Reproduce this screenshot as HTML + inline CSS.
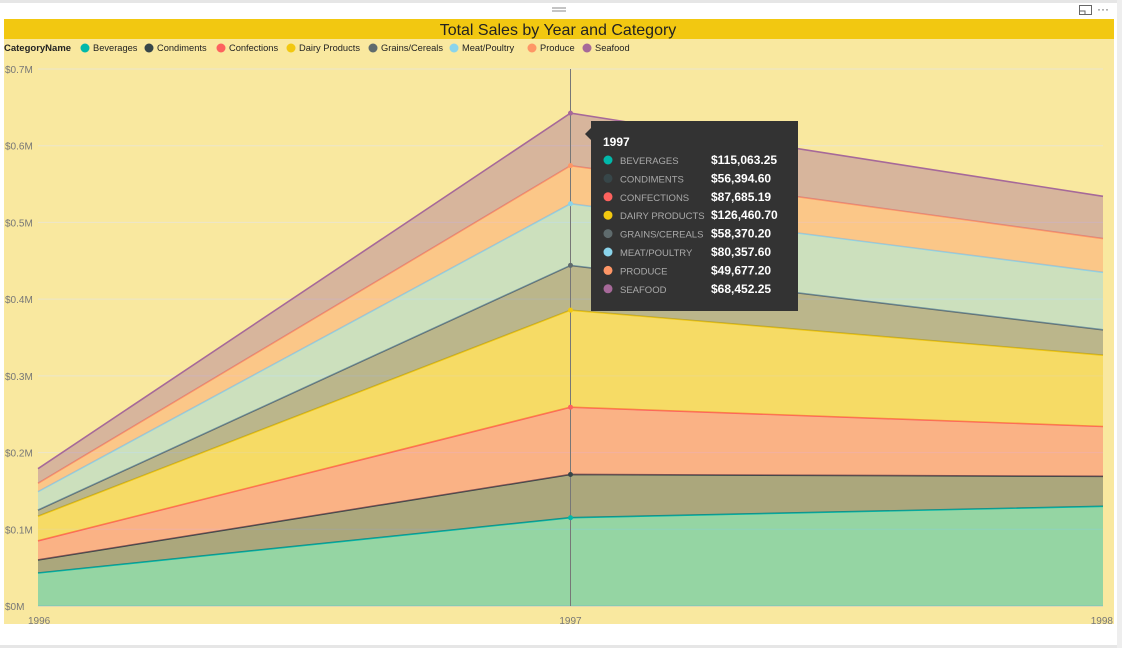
<!DOCTYPE html>
<html><head><meta charset="utf-8"><style>
body{margin:0;width:1122px;height:648px;background:#fff;font-family:"Liberation Sans",sans-serif;overflow:hidden;position:relative}
svg{position:absolute;left:0;top:0}
</style></head><body>
<svg id="c" width="1122" height="648"></svg>
<script>
const years=["1996","1997","1998"];
const categories=["Beverages","Condiments","Confections","Dairy Products","Grains/Cereals","Meat/Poultry","Produce","Seafood"];
const colors=["#01B8AA","#374649","#FD625E","#F2C80F","#5F6B6D","#8AD4EB","#FE9666","#A66999"];
const beverages=[43000,115063.25,130000];
const condiments=[17000,56394.60,39000];
const confections=[25000,87685.19,65000];
const dairy=[32000,126460.70,93000];
const grains=[8000,58370.20,33000];
const meat=[24000,80357.60,75000];
const produce=[11000,49677.20,44000];
const seafood=[19000,68452.25,55000];
const yTicks=[0,100000,200000,300000,400000,500000,600000,700000];
const yTickLabels=["$0M","$0.1M","$0.2M","$0.3M","$0.4M","$0.5M","$0.6M","$0.7M"];
const tooltipValues=["$115,063.25","$56,394.60","$87,685.19","$126,460.70","$58,370.20","$80,357.60","$49,677.20","$68,452.25"];
const series=[beverages,condiments,confections,dairy,grains,meat,produce,seafood];

const NS="http://www.w3.org/2000/svg";
const svg=document.getElementById('c');
function el(t,a,p){const e=document.createElementNS(NS,t);for(const k in a)e.setAttribute(k,a[k]);(p||svg).appendChild(e);return e;}
const X0=38,X1=1103,Y0=606,Y1=69,YMAX=700000;
const xs=i=>X0+(X1-X0)*i/(years.length-1);
const ys=v=>Y0-(Y0-Y1)*v/YMAX;

let r=el('rect',{x:0,y:0,width:1122,height:3,fill:'#e6e6e6'});

r=el('rect',{x:0,y:645,width:1122,height:3,fill:'#e6e6e6'});

r=el('rect',{x:1117,y:0,width:5,height:648,fill:'#eeeeee'});

r=el('rect',{x:4,y:19,width:1110,height:605,fill:'#F9E89F'});

r=el('rect',{x:4,y:19,width:1110,height:20,fill:'#F2C811'});

let t=el('text',{x:558,y:35,'text-anchor':'middle','font-size':16,fill:'#222'});t.textContent='Total Sales by Year and Category';

el('path',{d:'M552 8h14M552 11h14',stroke:'#888','stroke-width':1});
let ic=el('g',{});
el('rect',{x:1079.5,y:5.5,width:12,height:9,fill:'none',stroke:'#666'},ic);
el('path',{d:'M1079 11h6v4',stroke:'#666',fill:'none'},ic);
ic=el('text',{x:1097,y:13,'font-size':12,fill:'#555'});ic.textContent='···';


let lg=el('g',{});
t=el('text',{x:4,y:51,'font-size':9.5,'font-weight':'bold',fill:'#222'},lg);t.textContent='CategoryName';

const lcx=[85,149,221,291,373,454,532,587];
categories.forEach((c,i)=>{
  const g=el('g',{},lg);
  
  
  el('circle',{cx:lcx[i],cy:48,r:4.5,fill:colors[i]},g);
  const tt=el('text',{x:lcx[i]+8,y:51,'font-size':9.3,fill:'#222'},g);tt.textContent=c;
});

yTicks.forEach((v,i)=>{
  const gl=el('line',{x1:X0,x2:X1,y1:ys(v),y2:ys(v),stroke:i==0?'#c8c8c8':'#ece6cc','stroke-width':1});
  
  const tl=el('text',{x:5,y:ys(v)+4,'font-size':10,fill:'#777'});tl.textContent=yTickLabels[i];
  
});
years.forEach((y,i)=>{
  const a=i==0?'start':(i==years.length-1?'end':'middle');
  const tl=el('text',{x:i==0?28:(i==years.length-1?1113:xs(i)),y:624,'font-size':10,fill:'#777','text-anchor':a});tl.textContent=y;
  
});

const cum=years.map(()=>0);
const tops=[];
series.forEach((s,k)=>{
  const lo=cum.slice();
  years.forEach((_,i)=>cum[i]+=s[i]);
  const hi=cum.slice();tops.push(hi);
  let d='M'+years.map((_,i)=>xs(i)+' '+ys(hi[i])).join('L');
  for(let i=years.length-1;i>=0;i--)d+='L'+xs(i)+' '+ys(lo[i]);
  const a=el('path',{d:d+'Z',fill:colors[k],'fill-opacity':0.4});
  
  
  const l=el('polyline',{points:years.map((_,i)=>xs(i)+','+ys(hi[i])).join(' '),fill:'none',stroke:colors[k],'stroke-width':1.6});
  
  
});
const hl=el('line',{x1:xs(1),x2:xs(1),y1:Y1,y2:Y0,stroke:'#777','stroke-width':1});

tops.forEach((h,k)=>{
  const p=el('circle',{cx:xs(1),cy:ys(h[1]),r:2.5,fill:colors[k]});
  
});
const tg=el('g',{});
el('rect',{x:591,y:121,width:207,height:190,fill:'#333333'},tg);
el('path',{d:'M591 128L585 134L591 140Z',fill:'#333333'},tg);
t=el('text',{x:603,y:146,'font-size':12,'font-weight':'bold',fill:'#fff'},tg);t.textContent=years[1];
categories.forEach((c,i)=>{
  const y=160+i*18.4;
  el('circle',{cx:608,cy:y,r:4.5,fill:colors[i]},tg);
  const a=el('text',{x:620,y:y+4,'font-size':9.5,fill:'#aaa'},tg);a.textContent=c.toUpperCase();
  const b=el('text',{x:711,y:y+4,'font-size':12,'font-weight':'bold',fill:'#fff'},tg);b.textContent=tooltipValues[i];
});
</script>
</body></html>
